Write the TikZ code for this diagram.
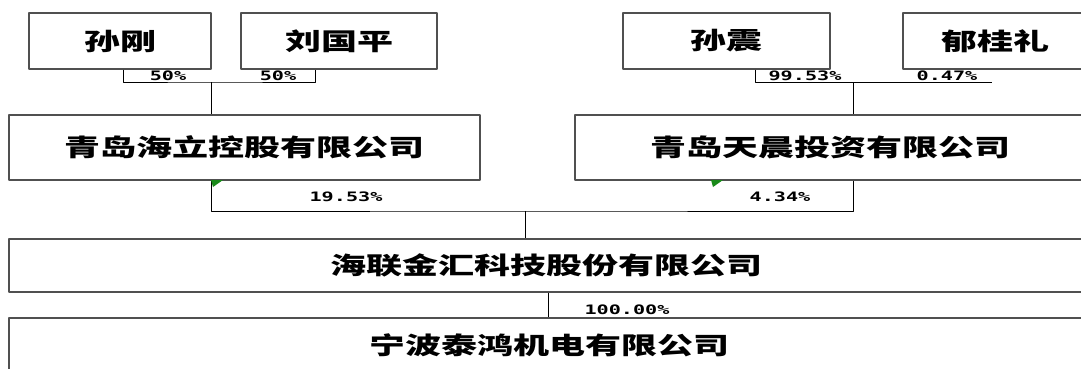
\documentclass[tikz,border=0pt]{standalone}
\usepackage{fontspec}
\newfontfamily\cjk[FakeStretch=1.5]{Noto Sans CJK SC}
\newfontfamily\pctfont[FakeStretch=1.55]{DejaVu Sans Mono}
\definecolor{boxgray}{HTML}{505050}
\definecolor{flaggreen}{HTML}{1A8A1A}
\tikzset{
  entity/.style={draw=boxgray, line width=1.3pt, rectangle, inner sep=0pt,
    font=\cjk\bfseries\fontsize{24}{24}\selectfont},
  link/.style={draw=black, line width=0.9pt},
  pct/.style={inner sep=0pt, font=\pctfont\bfseries\fontsize{13}{13}\selectfont},
}
\begin{document}
\begin{tikzpicture}[x=1pt, y=-1pt, line join=round]
  \useasboundingbox (0,0) rectangle (1081,369);
  \clip (0,0) rectangle (1081,369);
  % shareholders
  \node[entity, minimum width=182, minimum height=56] (sungang) at (120,41) {孙刚};
  \node[entity, minimum width=196, minimum height=56] (liuguoping) at (339,41) {刘国平};
  \node[entity, minimum width=207, minimum height=56] (sunzhen) at (726.5,41) {孙震};
  \node[entity, minimum width=184, minimum height=56] (yuguili) at (995,41) {郁桂礼};
  % holding companies
  \node[entity, minimum width=471, minimum height=65] (haili) at (244.5,147.5) {青岛海立控股有限公司};
  \node[entity, minimum width=510, minimum height=65] (tianchen) at (830,147.5) {青岛天晨投资有限公司};
  \node[entity, minimum width=1075, minimum height=53] (hailian) at (546.5,265.5) {海联金汇科技股份有限公司};
  \node[entity, minimum width=1081, minimum height=54] (ningbo) at (549.5,345) {宁波泰鸿机电有限公司};
  % junctions
  \coordinate (ja) at (211,82); \coordinate (jb) at (853,82);
  \coordinate (jc) at (525,211); \coordinate (jd) at (548,0);
  \coordinate (la) at (123,0); \coordinate (ra) at (315,0);
  \coordinate (lb) at (755,0); \coordinate (rb) at (992,82);
  \coordinate (lc) at (211,0); \coordinate (rc) at (853,0);
  \draw[link] (sungang.south -| la) |- (ja) -| (liuguoping.south -| ra);
  \draw[link] (ja) -- (ja |- haili.north);
  \draw[link] (sunzhen.south -| lb) |- (rb);
  \draw[link] (jb) -- (jb |- tianchen.north);
  \draw[link] (haili.south -| lc) |- (jc) -| (tianchen.south -| rc);
  \draw[link] (jc) -- (jc |- hailian.north);
  \draw[link] (hailian.south -| jd) -- (ningbo.north -| jd);
  \fill[flaggreen] (211,180) -- (223,180) -- (213,187) -- cycle;
  \fill[flaggreen] (711,180) -- (723,180) -- (713,187) -- cycle;
  % shares
  \node[pct] (p1) at (168,76) {50\%};
  \node[pct] (p2) at (278,76) {50\%};
  \node[pct] (p3) at (805,76) {99.53\%};
  \node[pct] (p4) at (947,76) {0.47\%};
  \node[pct] (p5) at (346,197) {19.53\%};
  \node[pct] (p6) at (780,197) {4.34\%};
  \node[pct] (p7) at (627,310) {100.00\%};
\end{tikzpicture}
\end{document}
